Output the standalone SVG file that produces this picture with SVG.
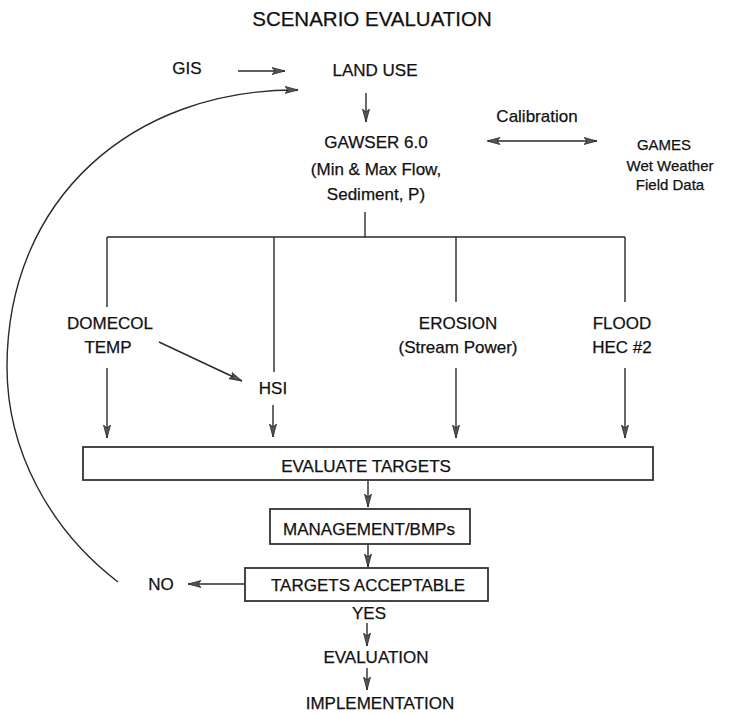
<svg xmlns="http://www.w3.org/2000/svg" width="736" height="714" viewBox="0 0 736 714">
<defs>
<style>
text{font-family:"Liberation Sans",Arial,sans-serif;font-size:17px;fill:#111;stroke:#111;stroke-width:0.25;text-anchor:middle}
.title{font-size:20.5px}
.small{font-size:15px}
.ln{stroke:#2a2a2a;stroke-width:1.4;fill:none}
.arr{stroke:#2a2a2a;stroke-width:1.4;fill:none;marker-end:url(#ah)}
.box{fill:#fff;stroke:#333;stroke-width:1.8}
</style>
<marker id="ah" markerUnits="userSpaceOnUse" markerWidth="14" markerHeight="8" refX="13" refY="4" orient="auto">
<path d="M0,0.5 L13,4 L0,7.5 L3,4 z" fill="#555" stroke="#2a2a2a" stroke-width="0.8"/>
</marker>
<marker id="ahs" markerUnits="userSpaceOnUse" markerWidth="14" markerHeight="8" refX="1" refY="4" orient="auto">
<path d="M13,0.5 L0,4 L13,7.5 L10,4 z" fill="#555" stroke="#2a2a2a" stroke-width="0.8"/>
</marker>
</defs>

<text class="title" x="372" y="26">SCENARIO EVALUATION</text>

<g id="connectors">
<line class="arr" x1="238" y1="71" x2="285" y2="71"/>
<path class="arr" d="M118,582 C49,529 7,450 7,367 C7,199 132,89 298,90"/>
<line class="arr" x1="366" y1="93" x2="366" y2="122"/>
<line class="arr" x1="488" y1="141" x2="597" y2="141" marker-start="url(#ahs)"/>
<path class="ln" d="M365,212 V237 M107,237 H625 M107,237 V307 M274,237 V372 M456,237 V302 M625,237 V302"/>
<line class="arr" x1="159" y1="342" x2="242" y2="381"/>
<line class="arr" x1="107" y1="368" x2="107" y2="438"/>
<line class="arr" x1="273" y1="405" x2="273" y2="437"/>
<line class="arr" x1="456" y1="368" x2="456" y2="438"/>
<line class="arr" x1="625" y1="368" x2="625" y2="438"/>
<line class="arr" x1="368" y1="481" x2="368" y2="507"/>
<line class="arr" x1="368" y1="544" x2="368" y2="567"/>
<line class="arr" x1="245" y1="584" x2="188" y2="584"/>
<line class="arr" x1="367" y1="623" x2="367" y2="646"/>
<line class="arr" x1="367" y1="668" x2="367" y2="690"/>
</g>

<g id="gis"><text x="187" y="74">GIS</text></g>
<g id="landuse"><text x="375" y="76">LAND USE</text></g>
<g id="gawser">
<text x="376" y="148">GAWSER 6.0</text>
<text x="376" y="175">(Min &amp; Max Flow,</text>
<text x="376" y="200">Sediment, P)</text>
</g>
<g id="calibration"><text x="537" y="122">Calibration</text></g>
<g id="games">
<text class="small" x="664" y="150">GAMES</text>
<text class="small" x="670" y="171">Wet Weather</text>
<text class="small" x="670" y="190">Field Data</text>
</g>
<g id="domecol">
<text x="110" y="329">DOMECOL</text>
<text x="108" y="353">TEMP</text>
</g>
<g id="hsi"><text x="273" y="394">HSI</text></g>
<g id="erosion">
<text x="458" y="329">EROSION</text>
<text x="458" y="353">(Stream Power)</text>
</g>
<g id="flood">
<text x="622" y="329">FLOOD</text>
<text x="622" y="353">HEC #2</text>
</g>
<g id="evaluate">
<rect class="box" x="83" y="447" width="570" height="33"/>
<text x="366" y="472">EVALUATE TARGETS</text>
</g>
<g id="management">
<rect class="box" x="270" y="509" width="200" height="35"/>
<text x="369" y="535">MANAGEMENT/BMPs</text>
</g>
<g id="targets">
<rect class="box" x="245" y="568" width="243" height="33"/>
<text x="368" y="591">TARGETS ACCEPTABLE</text>
</g>
<g id="no"><text x="161" y="590">NO</text></g>
<g id="yes"><text x="369" y="619">YES</text></g>
<g id="evaluation"><text x="376" y="663">EVALUATION</text></g>
<g id="implementation"><text x="380" y="709">IMPLEMENTATION</text></g>
</svg>
